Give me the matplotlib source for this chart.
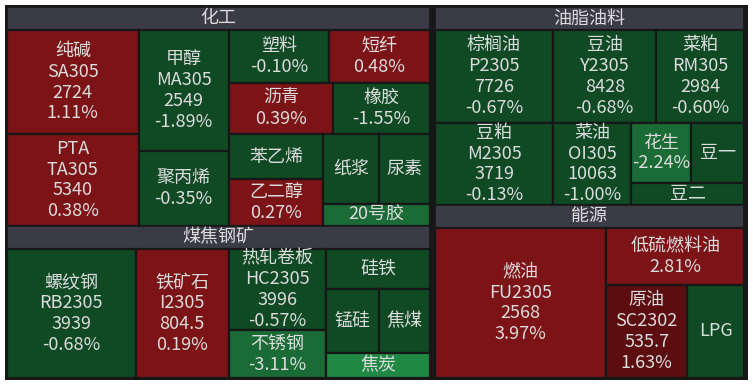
import matplotlib.pyplot as plt
from matplotlib.patches import Rectangle

plt.rcParams['font.family'] = ['Noto Sans CJK SC', 'DejaVu Sans']

# ---- data ----
groups = ['化工', '煤焦钢矿', '油脂油料', '能源']

chem_names = ['纯碱', 'PTA', '甲醇', '聚丙烯', '塑料', '短纤', '沥青', '橡胶',
              '苯乙烯', '乙二醇', '纸浆', '尿素', '20号胶']
chem_codes = ['SA305', 'TA305', 'MA305', '', '', '', '', '', '', '', '', '', '']
chem_prices = ['2724', '5340', '2549', '', '', '', '', '', '', '', '', '', '']
chem_pcts = [1.11, 0.38, -1.89, -0.35, -0.10, 0.48, 0.39, -1.55,
             None, 0.27, None, None, None]
chem_sizes = [13755, 12052, 10980, 6750, 5300, 5300, 5408, 4992,
              4230, 4418, 3920, 3500, 2332]

steel_names = ['螺纹钢', '铁矿石', '热轧卷板', '不锈钢', '硅铁', '锰硅', '焦煤', '焦炭']
steel_codes = ['RB2305', 'I2305', 'HC2305', '', '', '', '', '']
steel_prices = ['3939', '804.5', '3996', '', '', '', '', '']
steel_pcts = [-0.68, 0.19, -0.57, -3.11, None, None, None, None]
steel_sizes = [16640, 12090, 7954, 4656, 4120, 3445, 3250, 2575]

oil_names = ['棕榈油', '豆粕', '豆油', '菜粕', '菜油', '花生', '豆一', '豆二']
oil_codes = ['P2305', 'M2305', 'Y2305', 'RM305', 'OI305', '', '', '']
oil_prices = ['7726', '3719', '8428', '2984', '10063', '', '', '']
oil_pcts = [-0.67, -0.13, -0.68, -0.60, -1.00, -2.24, None, None]
oil_sizes = [11067, 9758, 9579, 8184, 6396, 3600, 3180, 2486]

energy_names = ['燃油', '低硫燃料油', '原油', 'LPG']
energy_codes = ['FU2305', '', 'SC2302', '']
energy_prices = ['2568', '', '535.7', '']
energy_pcts = [3.97, 2.81, 1.63, None]
energy_sizes = [25800, 7866, 7533, 5301]

# ---- styles ----
shade_colors = {'r': '#7c1316', 'dr': '#5b0d10', 'g': '#0f4a24',
                'mg': '#1a6b36', 'bg': '#1f8843'}
shades = {
    '纯碱': 'r', 'PTA': 'r', '甲醇': 'g', '聚丙烯': 'g', '塑料': 'g', '短纤': 'r',
    '沥青': 'r', '橡胶': 'g', '苯乙烯': 'g', '乙二醇': 'r', '纸浆': 'g', '尿素': 'g',
    '20号胶': 'mg',
    '螺纹钢': 'g', '铁矿石': 'r', '热轧卷板': 'g', '不锈钢': 'mg', '硅铁': 'g',
    '锰硅': 'g', '焦煤': 'g', '焦炭': 'bg',
    '棕榈油': 'g', '豆粕': 'g', '豆油': 'g', '菜粕': 'g', '菜油': 'g', '花生': 'mg',
    '豆一': 'g', '豆二': 'g',
    '燃油': 'r', '低硫燃料油': 'r', '原油': 'dr', 'LPG': 'g',
}
header_color = '#3a3b45'
frame_color = '#171717'
text_color = '#dcdcdc'
HEADER = 23
FS = 13

# nested split layouts (indices into each group's lists)
chem_tree = ('h', [('v', [0, 1]), ('v', [2, 3]),
                   ('v', [('h', [4, 5]), ('h', [6, 7]),
                          ('h', [('v', [8, 9]), ('v', [('h', [10, 11]), 12])])])])
steel_tree = ('h', [0, 1, ('v', [2, 3]), ('v', [4, ('h', [5, 6]), 7])])
oil_tree = ('h', [('v', [0, 1]),
                  ('v', [('h', [2, 3]), ('h', [4, ('v', [('h', [5, 6]), 7])])])])
energy_tree = ('h', [0, ('v', [1, ('h', [2, 3])])])

group_data = [
    (chem_names, chem_codes, chem_prices, chem_pcts, chem_sizes, chem_tree),
    (steel_names, steel_codes, steel_prices, steel_pcts, steel_sizes, steel_tree),
    (oil_names, oil_codes, oil_prices, oil_pcts, oil_sizes, oil_tree),
    (energy_names, energy_codes, energy_prices, energy_pcts, energy_sizes, energy_tree),
]

fig = plt.figure(figsize=(7.53, 3.88), dpi=100)
ax = fig.add_axes([0, 0, 1, 1])
ax.set_xlim(0, 753)
ax.set_ylim(388, 0)
ax.axis('off')


def weight(node, sizes):
    if isinstance(node, int):
        return sizes[node]
    return sum(weight(c, sizes) for c in node[1])


def draw_cell(i, rect, d):
    names, codes, prices, pcts, sizes, _ = d
    x, y, w, h = rect
    ax.add_patch(Rectangle((x, y), w, h, facecolor=shade_colors[shades[names[i]]],
                           edgecolor=frame_color, linewidth=1.6))
    lines = [names[i]]
    if codes[i]:
        lines.append(codes[i])
    if prices[i]:
        lines.append(prices[i])
    if pcts[i] is not None:
        lines.append(f'{pcts[i]:.2f}%')
    ax.text(x + w / 2, y + h / 2, '\n'.join(lines), ha='center', va='center',
            color=text_color, fontsize=FS, linespacing=1.2)


def layout(node, rect, d):
    if isinstance(node, int):
        draw_cell(node, rect, d)
        return
    direction, kids = node
    sizes = d[4]
    total = weight(node, sizes)
    x, y, w, h = rect
    pos = x if direction == 'h' else y
    for k in kids:
        frac = weight(k, sizes) / total
        if direction == 'h':
            layout(k, (pos, y, w * frac, h), d)
            pos += w * frac
        else:
            layout(k, (x, pos, w, h * frac), d)
            pos += h * frac


def draw_group(g, rect):
    x, y, w, h = rect
    ax.add_patch(Rectangle((x, y), w, HEADER, facecolor=header_color,
                           edgecolor=frame_color, linewidth=1.2))
    ax.text(x + w / 2, y + HEADER / 2, groups[g], ha='center', va='center',
            color=text_color, fontsize=FS)
    layout(group_data[g][5], (x, y + HEADER, w, h - HEADER), group_data[g])


# outer frame
ax.add_patch(Rectangle((5, 5), 743, 375, facecolor=frame_color, edgecolor='none'))

x0, y0, x1, y1 = 7, 7, 744, 378
gap = 5
gw = [sum(group_data[g][4]) for g in range(4)]
left_w = (x1 - x0 - gap) * (gw[0] + gw[1]) / sum(gw)
columns = [((x0, left_w), (0, 1)), ((x0 + left_w + gap, x1 - x0 - gap - left_w), (2, 3))]
for (cx, cw), (ga, gb) in columns:
    cells_h = (y1 - y0) - 2 * HEADER
    ha = HEADER + cells_h * gw[ga] / (gw[ga] + gw[gb])
    draw_group(ga, (cx, y0, cw, ha))
    draw_group(gb, (cx, y0 + ha, cw, (y1 - y0) - ha))

fig.savefig('out.png', dpi=100, facecolor='white')
